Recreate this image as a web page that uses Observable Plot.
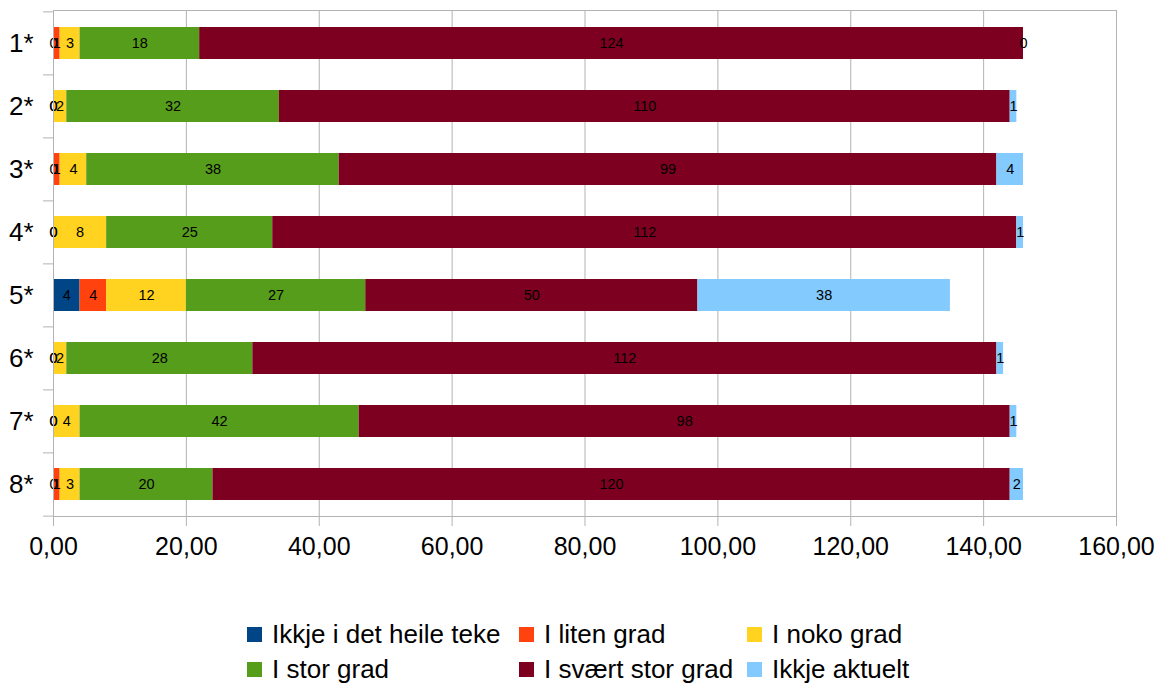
<!DOCTYPE html>
<html>
<head>
<meta charset="utf-8">
<script src="https://cdn.jsdelivr.net/npm/d3@7"></script>
<script src="https://cdn.jsdelivr.net/npm/@observablehq/plot@0.6"></script>
<style>
  html, body { margin: 0; padding: 0; background: white; }
  #wrap { position: relative; width: 1159px; height: 684px; font-family: "Liberation Sans", Arial, sans-serif; }
  .leg { position: absolute; display: flex; align-items: center; font-size: 26px; color: black; white-space: nowrap; }
  .sw { width: 15px; height: 15px; margin-right: 10px; flex: none; }
</style>
</head>
<body>
<div id="wrap"></div>
<script>
const rows = ["1*", "2*", "3*", "4*", "5*", "6*", "7*", "8*"];
const categories = ["Ikkje i det heile teke", "I liten grad", "I noko grad", "I stor grad", "I svært stor grad", "Ikkje aktuelt"];
const colors = ["#004586", "#ff420e", "#ffd320", "#579d1c", "#7e0021", "#83caff"];
const ikkjeHeile = [0, 0, 0, 0, 4, 0, 0, 0];
const litenGrad  = [1, 0, 1, 0, 4, 0, 0, 1];
const nokoGrad   = [3, 2, 4, 8, 12, 2, 4, 3];
const storGrad   = [18, 32, 38, 25, 27, 28, 42, 20];
const sværtStor  = [124, 110, 99, 112, 50, 112, 98, 120];
const ikkjeAkt   = [0, 1, 4, 1, 38, 1, 1, 2];
const xTicks = [0, 20, 40, 60, 80, 100, 120, 140, 160];

const series = [ikkjeHeile, litenGrad, nokoGrad, storGrad, sværtStor, ikkjeAkt];
const data = [];
rows.forEach((r, i) => categories.forEach((c, j) => data.push({row: r, cat: c, value: series[j][i]})));

const W = 1159, H = 575, mT = 10, mB = 59, mL = 53, mR = 43;
const step = (H - mT - mB) / rows.length;
const pxPerUnit = (W - mL - mR) / 160;
const fmt = d => d.toFixed(2).replace(".", ",");
const gray = "#b3b3b3";

const chart = Plot.plot({
  width: W, height: H,
  marginTop: mT, marginBottom: mB, marginLeft: mL, marginRight: mR,
  style: {fontFamily: "'Liberation Sans', Arial, sans-serif", background: "white", overflow: "visible"},
  x: {domain: [0, 160]},
  y: {domain: rows, paddingInner: 0.5, paddingOuter: 0.25},
  color: {domain: categories, range: colors},
  marks: [
    Plot.gridX(xTicks, {stroke: gray, strokeOpacity: 1}),
    Plot.barX(data, Plot.stackX({x: "value", y: "row", fill: "cat", order: categories})),
    Plot.text(data, Plot.stackX({x: "value", y: "row", z: "cat", order: categories, text: d => String(d.value), fontSize: 14.5, fill: "black"})),
    Plot.frame({stroke: gray}),
    Plot.axisX({ticks: xTicks, tickFormat: fmt, tickSize: 10, tickPadding: 11, fontSize: 25, stroke: gray, fill: "black", label: null}),
    Plot.axisY({tickSize: 0, tickPadding: 20, fontSize: 26, fill: "black", label: null}),
    Plot.ruleY(rows, {y: d => d, x1: -10 / pxPerUnit, x2: 0, dy: -step / 2, stroke: gray}),
    Plot.ruleY(rows.slice(-1), {y: d => d, x1: -10 / pxPerUnit, x2: 0, dy: step / 2, stroke: gray})
  ]
});
const wrap = document.getElementById("wrap");
wrap.appendChild(chart);

const legX = [247, 519, 747];
const legY = [634, 669];
categories.forEach((c, i) => {
  const el = document.createElement("div");
  el.className = "leg";
  el.style.left = legX[i % 3] + "px";
  el.style.top = (legY[Math.floor(i / 3)] - 15) + "px";
  el.style.height = "30px";
  const sw = document.createElement("span");
  sw.className = "sw";
  sw.style.background = colors[i];
  el.appendChild(sw);
  el.appendChild(document.createTextNode(c));
  wrap.appendChild(el);
});
</script>
</body>
</html>
